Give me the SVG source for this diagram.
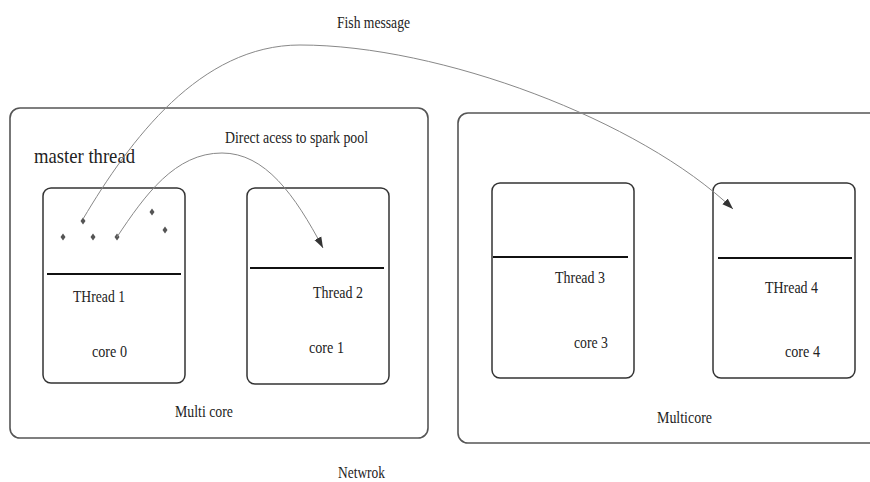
<svg xmlns="http://www.w3.org/2000/svg" width="870" height="482" viewBox="0 0 870 482">
<style>
.outer{fill:none;stroke:#555;stroke-width:1.6}
.inner{fill:none;stroke:#333;stroke-width:1.5}
.div{stroke:#111;stroke-width:2}
.t{font-family:"Liberation Serif","Times New Roman",serif;font-size:17px;fill:#222}
.big{font-size:21px}
.conn{fill:none;stroke:#888;stroke-width:1}
.dot{fill:#555}
</style>
<defs>
<marker id="arr" viewBox="0 0 10 10" refX="10" refY="5" markerWidth="11" markerHeight="11" markerUnits="userSpaceOnUse" orient="auto">
<path d="M0,1.5 L10,5 L0,8.5 Z" fill="#333"/>
</marker>
<path id="sp" d="M0,-3.5 L2.5,0 L0,3.5 L-2.5,0 Z"/>
</defs>
<rect width="870" height="482" fill="#fff"/>

<g id="multicore-left">
<rect class="outer" x="10" y="108" width="418" height="330" rx="10"/>
<text class="t" x="175" y="417" textLength="58" lengthAdjust="spacingAndGlyphs">Multi core</text>
</g>
<g id="multicore-right">
<rect class="outer" x="458" y="113" width="440" height="330" rx="10"/>
<text class="t" x="657" y="423" textLength="55" lengthAdjust="spacingAndGlyphs">Multicore</text>
</g>

<g id="thread1">
<rect class="inner" x="43" y="188" width="142" height="195" rx="8"/>
<line class="div" x1="47" y1="274" x2="181" y2="274"/>
<text class="t" x="73" y="302" textLength="52" lengthAdjust="spacingAndGlyphs">THread 1</text>
<text class="t" x="92" y="357" textLength="35" lengthAdjust="spacingAndGlyphs">core 0</text>
<g class="dot">
<use href="#sp" x="63" y="237"/>
<use href="#sp" x="83" y="221"/>
<use href="#sp" x="93" y="237"/>
<use href="#sp" x="117" y="237"/>
<use href="#sp" x="152" y="212"/>
<use href="#sp" x="165" y="230"/>
</g>
</g>
<g id="thread2">
<rect class="inner" x="247" y="188" width="142" height="196" rx="8"/>
<line class="div" x1="250" y1="268" x2="384" y2="268"/>
<text class="t" x="313" y="298" textLength="50" lengthAdjust="spacingAndGlyphs">Thread 2</text>
<text class="t" x="309" y="353" textLength="35" lengthAdjust="spacingAndGlyphs">core 1</text>
</g>
<g id="thread3">
<rect class="inner" x="492" y="183" width="142" height="195" rx="8"/>
<line class="div" x1="493" y1="257" x2="628" y2="257"/>
<text class="t" x="555" y="283" textLength="50" lengthAdjust="spacingAndGlyphs">Thread 3</text>
<text class="t" x="574" y="348" textLength="34" lengthAdjust="spacingAndGlyphs">core 3</text>
</g>
<g id="thread4">
<rect class="inner" x="713" y="183" width="142" height="195" rx="8"/>
<line class="div" x1="718" y1="258" x2="852" y2="258"/>
<text class="t" x="765" y="293" textLength="53" lengthAdjust="spacingAndGlyphs">THread 4</text>
<text class="t" x="785" y="357" textLength="35" lengthAdjust="spacingAndGlyphs">core 4</text>
</g>

<g id="labels">
<text class="t big" x="34" y="163" textLength="101" lengthAdjust="spacingAndGlyphs">master thread</text>
<text class="t" x="338" y="478" textLength="47" lengthAdjust="spacingAndGlyphs">Netwrok</text>
</g>

<g id="connectors">
<path class="conn" d="M83,219 C130,140 200,45 300,45 C440,45 640,120 733,209" marker-end="url(#arr)"/>
<text class="t" x="337" y="28" textLength="73" lengthAdjust="spacingAndGlyphs">Fish message</text>
<path class="conn" d="M117,237 C145,195 175,153 222,153 C265,153 295,195 323,248" marker-end="url(#arr)"/>
<text class="t" x="225" y="143" textLength="143" lengthAdjust="spacingAndGlyphs">Direct acess to spark pool</text>
</g>
</svg>
